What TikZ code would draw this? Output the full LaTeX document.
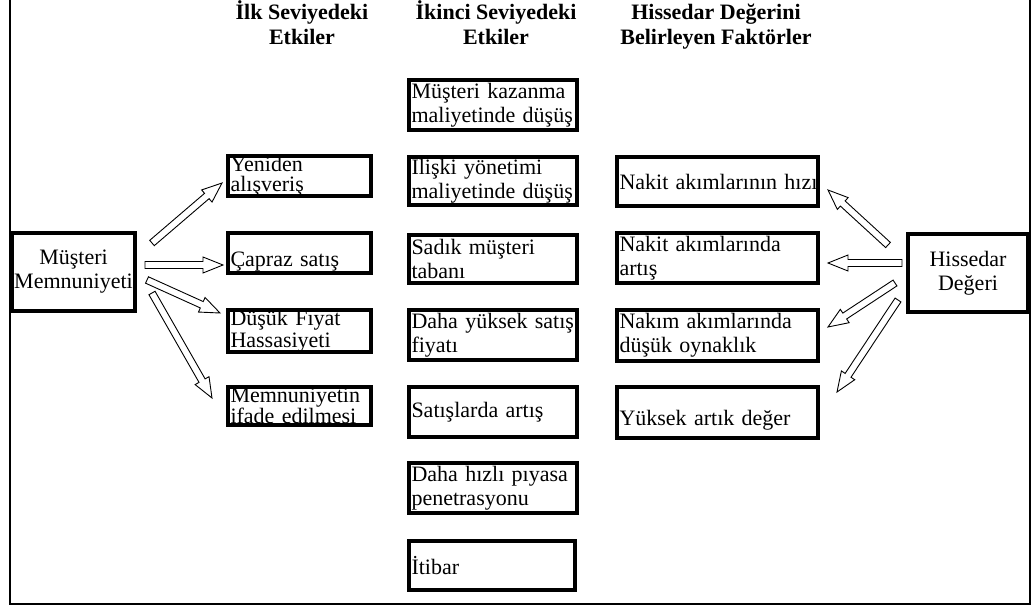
\documentclass[tikz,border=0pt]{standalone}
\usepackage{fontspec}
\setmainfont{Liberation Serif}
\usetikzlibrary{calc}
\newcommand{\boxfnt}{\fontsize{22}{24}\selectfont}
\newcommand{\tightfnt}{\fontsize{22}{20}\selectfont}
\newcommand{\midfnt}{\fontsize{22}{22}\selectfont}
\newcommand{\headfnt}{\fontsize{22}{25}\selectfont\bfseries}
\newcommand{\bxl}[1]{\mbox{#1}}
\newcommand{\blockarr}[2]{%
  \path ($(#2)!20pt!(#1)$) coordinate (bah);
  \draw[blockarrow] ($(#1)!3.5pt!90:(#2)$) -- ($(bah)!3.5pt!90:(#2)$) -- ($(bah)!8pt!90:(#2)$) -- (#2)
     -- ($(bah)!8pt!-90:(#2)$) -- ($(bah)!3.5pt!-90:(#2)$) -- ($(#1)!3.5pt!-90:(#2)$) -- cycle;}
\tikzset{
  box/.style={draw, rectangle, line width=3.6pt, inner xsep=2.5pt, inner ysep=0pt, font=\boxfnt},
  bigbox/.style={box, align=center, minimum width=120pt, minimum height=78pt},
  colA/.style={box, align=left, minimum width=143pt, text width=138pt},
  colB/.style={box, align=left, minimum width=168pt, text width=163pt},
  colC/.style={box, align=left, minimum width=201pt, text width=196pt},
  head/.style={align=center, inner sep=0pt, font=\headfnt, anchor=base},
  blockarrow/.style={draw=black, fill=white, line width=0.9pt, line join=miter},
  frame/.style={line width=2.2pt}
}
\begin{document}
\begin{tikzpicture}[x=1pt,y=-1pt]
\useasboundingbox (0,0) rectangle (1033,609);
\draw[frame] (10,0) -- (10,604) -- (1030,604) -- (1030,0);

% headers
\node[head] (h1) at (302,45) {İlk Seviyedeki\\Etkiler};
\node[head] (h2) at (496,45) {İkinci Seviyedeki\\Etkiler};
\node[head] (h3) at (716,45) {Hissedar Değerini\\Belirleyen Faktörler};

% left and right main boxes
\node[bigbox, minimum width=123pt] (mm) at (73.5,272) {Müşteri\\Memnuniyeti};
\node[bigbox] (hd) at (968,273) {Hissedar\\Değeri};

% first level
\node[colA, font=\tightfnt, minimum height=38pt] (a1) at (299.5,176) {\bxl{Yeniden}\\\bxl{alışveriş}};
\node[colA, minimum height=40pt, text height=28pt, text depth=0pt] (a2) at (299.5,253) {\bxl{Çapraz satış}};
\node[colA, font=\midfnt, minimum height=42pt] (a3) at (299.5,331) {\bxl{Düşük Fıyat}\\\bxl{Hassasiyeti}};
\node[colA, font=\tightfnt, minimum height=38pt] (a4) at (299.5,406) {\bxl{Memnuniyetin}\\\bxl{ifade edilmesi}};

% second level
\node[colB, minimum height=50pt] (b1) at (493,105) {\bxl{Müşteri kazanma}\\\bxl{maliyetinde düşüş}};
\node[colB, minimum height=48pt] (b2) at (493,181) {\bxl{Ilişki yönetimi}\\\bxl{maliyetinde düşüş}};
\node[colB, minimum height=48pt] (b3) at (493,259) {\bxl{Sadık müşteri}\\\bxl{tabanı}};
\node[colB, minimum height=50pt] (b4) at (493,335) {\bxl{Daha yüksek satış}\\\bxl{fiyatı}};
\node[colB, minimum height=50pt] (b5) at (493,412) {\bxl{Satışlarda artış}};
\node[colB, minimum height=50pt] (b6) at (493,488) {\bxl{Daha hızlı pıyasa}\\\bxl{penetrasyonu}};
\node[box, align=left, minimum width=166pt, text width=161pt, minimum height=49pt] (b7) at (492,565.5) {\bxl{İtibar}};

% shareholder value drivers
\node[colC, minimum height=49pt] (c1) at (717.5,181.5) {\bxl{Nakit akımlarının hızı}};
\node[colC, minimum height=50pt] (c2) at (717.5,258) {\bxl{Nakit akımlarında}\\\bxl{artış}};
\node[colC, minimum height=51pt] (c3) at (717.5,335.5) {\bxl{Nakım akımlarında}\\\bxl{düşük oynaklık}};
\node[colC, minimum height=51pt, text height=25pt, text depth=0pt] (c4) at (717.5,412.5) {\bxl{Yüksek artık değer}};

% arrow end points
\coordinate (la1s) at (152,243); \coordinate (la1t) at (222,183);
\coordinate (la2s) at (145,265); \coordinate (la2t) at (223,265);
\coordinate (la3s) at (147,280); \coordinate (la3t) at (220,313);
\coordinate (la4s) at (152,293); \coordinate (la4t) at (212,398);
\coordinate (ra1s) at (888,245); \coordinate (ra1t) at (828,190);
\coordinate (ra2s) at (902,263); \coordinate (ra2t) at (828,263);
\coordinate (ra3s) at (895,283); \coordinate (ra3t) at (828,327);
\coordinate (ra4s) at (898,300); \coordinate (ra4t) at (837,392);

\blockarr{la1s}{la1t}
\blockarr{la2s}{la2t}
\blockarr{la3s}{la3t}
\blockarr{la4s}{la4t}
\blockarr{ra1s}{ra1t}
\blockarr{ra2s}{ra2t}
\blockarr{ra3s}{ra3t}
\blockarr{ra4s}{ra4t}
\end{tikzpicture}
\end{document}
